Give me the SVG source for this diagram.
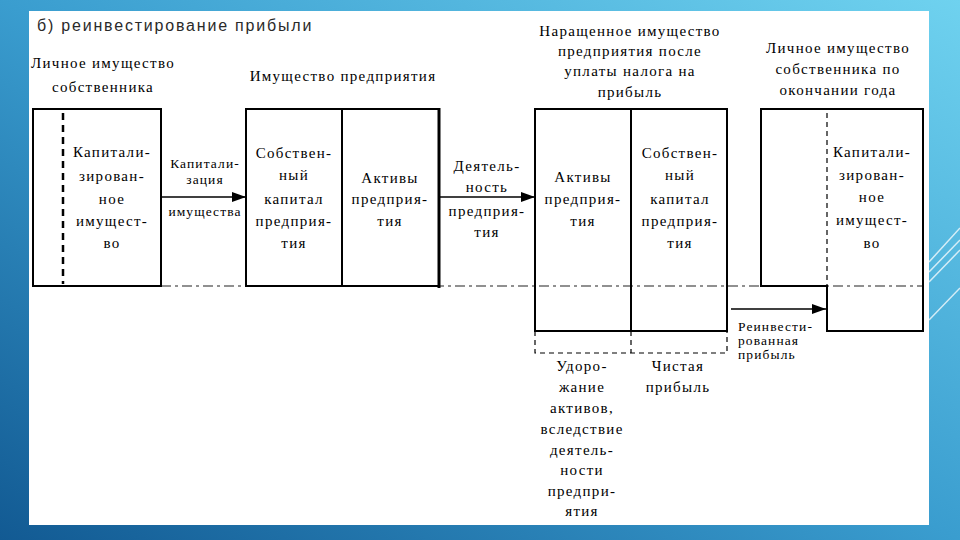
<svg xmlns="http://www.w3.org/2000/svg" width="960" height="540" viewBox="0 0 960 540">
  <defs>
    <linearGradient id="bg" x1="1" y1="0" x2="0" y2="1">
      <stop offset="0" stop-color="#6fd2ef"/>
      <stop offset="0.5" stop-color="#3a9dcf"/>
      <stop offset="1" stop-color="#125a93"/>
    </linearGradient>
    <marker id="ah" viewBox="0 0 14 10" refX="14" refY="5" markerWidth="14" markerHeight="10" markerUnits="userSpaceOnUse" orient="auto">
      <path d="M0,0 L14,5 L0,10 Z" fill="#000"/>
    </marker>
    <style>
      .t { font-family: "Times New Roman", Times, "Liberation Serif", Tinos, "Noto Serif", "DejaVu Serif", serif; font-size: 15px; fill: #000; letter-spacing: 1.3px; }
      .c { text-anchor: middle; }
      .sm { font-size: 13.5px; letter-spacing: 1.1px; }
      .title { font-family: "Liberation Sans", Arial, sans-serif; font-size: 16px; fill: #2a2a2a; letter-spacing: 1.8px; }
      .box { fill: none; stroke: #000; stroke-width: 2; }
      .solid { fill: none; stroke: #000; stroke-width: 2; }
      .thin { fill: none; stroke: #000; stroke-width: 1.5; }
      .dashthin { fill: none; stroke: #000; stroke-width: 1.2; stroke-dasharray: 5 4; }
      .dashthick { fill: none; stroke: #000; stroke-width: 2.5; stroke-dasharray: 7 5; }
      .dashdot { fill: none; stroke: #222; stroke-width: 1.2; stroke-dasharray: 10 4 3 4; }
      .deco { stroke: #fff; stroke-width: 1.5; opacity: 0.75; }
    </style>
  </defs>

  <rect x="0" y="0" width="960" height="540" fill="url(#bg)"/>
  <g id="decor">
    <line class="deco" x1="929" y1="262" x2="960" y2="228"/>
    <line class="deco" x1="929" y1="272" x2="960" y2="240"/>
    <line class="deco" x1="929" y1="282" x2="960" y2="250"/>
    <line class="deco" x1="929" y1="320" x2="960" y2="288"/>
  </g>
  <rect x="29" y="11" width="900" height="514" fill="#fff"/>

  <text class="title" x="37" y="31">б) реинвестирование прибыли</text>

  <g id="connectors">
    <line class="dashdot" x1="161" y1="286" x2="923" y2="286"/>
    <line class="thin" x1="161" y1="197" x2="246" y2="197" marker-end="url(#ah)"/>
    <line class="thin" x1="439" y1="197" x2="535" y2="197" marker-end="url(#ah)"/>
    <line class="thin" x1="731" y1="309" x2="826" y2="309" marker-end="url(#ah)"/>
  </g>

  <g id="header-left">
    <text class="t c" x="103" y="68">Личное имущество</text>
    <text class="t c" x="103" y="92">собственника</text>
  </g>
  <g id="header-middle">
    <text class="t c" x="343" y="81">Имущество предприятия</text>
  </g>
  <g id="header-grown">
    <text class="t c" x="630" y="36">Наращенное имущество</text>
    <text class="t c" x="630" y="56">предприятия после</text>
    <text class="t c" x="630" y="76">уплаты налога на</text>
    <text class="t c" x="630" y="97">прибыль</text>
  </g>
  <g id="header-right">
    <text class="t c" x="838" y="53">Личное имущество</text>
    <text class="t c" x="838" y="74">собственника по</text>
    <text class="t c" x="838" y="95">окончании года</text>
  </g>

  <g id="node-personal">
    <rect class="box" x="33" y="109" width="128" height="177"/>
    <line class="dashthick" x1="63" y1="113" x2="63" y2="284"/>
    <text class="t c" x="112" y="157">Капитали-</text>
    <text class="t c" x="112" y="181">зирован-</text>
    <text class="t c" x="112" y="204">ное</text>
    <text class="t c" x="112" y="226">имущест-</text>
    <text class="t c" x="112" y="248">во</text>
  </g>

  <g id="label-capitalization">
    <text class="t c sm" x="205" y="168">Капитали-</text>
    <text class="t c sm" x="205" y="184">зация</text>
    <text class="t c sm" x="205" y="216">имущества</text>
  </g>

  <g id="node-enterprise">
    <rect class="box" x="246" y="109" width="193" height="177"/>
    <line class="solid" x1="342" y1="109" x2="342" y2="286"/>
    <line x1="439" y1="108" x2="439" y2="288" stroke="#000" stroke-width="3"/>
    <text class="t c" x="294" y="158">Собствен-</text>
    <text class="t c" x="294" y="180">ный</text>
    <text class="t c" x="294" y="204">капитал</text>
    <text class="t c" x="294" y="226">предприя-</text>
    <text class="t c" x="294" y="248">тия</text>
    <text class="t c" x="390" y="183">Активы</text>
    <text class="t c" x="390" y="204">предприя-</text>
    <text class="t c" x="390" y="226">тия</text>
  </g>

  <g id="label-activity">
    <text class="t c" x="487" y="171">Деятель-</text>
    <text class="t c" x="487" y="192">ность</text>
    <text class="t c" x="487" y="216">предприя-</text>
    <text class="t c" x="487" y="237">тия</text>
  </g>

  <g id="node-grown">
    <rect class="box" x="535" y="109" width="192" height="222"/>
    <line class="solid" x1="631" y1="109" x2="631" y2="331"/>
    <path class="dashthin" d="M535,331 V353 H727 V331 M631,331 V353"/>
    <text class="t c" x="583" y="182">Активы</text>
    <text class="t c" x="583" y="204">предприя-</text>
    <text class="t c" x="583" y="226">тия</text>
    <text class="t c" x="680" y="158">Собствен-</text>
    <text class="t c" x="680" y="180">ный</text>
    <text class="t c" x="680" y="204">капитал</text>
    <text class="t c" x="680" y="226">предприя-</text>
    <text class="t c" x="680" y="248">тия</text>
  </g>

  <g id="label-appreciation">
    <text class="t c" x="582" y="371">Удоро-</text>
    <text class="t c" x="582" y="392">жание</text>
    <text class="t c" x="582" y="413">активов,</text>
    <text class="t c" x="582" y="434">вследствие</text>
    <text class="t c" x="582" y="455">деятель-</text>
    <text class="t c" x="582" y="475">ности</text>
    <text class="t c" x="582" y="496">предпри-</text>
    <text class="t c" x="582" y="516">ятия</text>
  </g>
  <g id="label-net-profit">
    <text class="t c" x="678" y="371">Чистая</text>
    <text class="t c" x="678" y="392">прибыль</text>
  </g>
  <g id="label-reinvested">
    <text class="t sm" x="738" y="331">Реинвести-</text>
    <text class="t sm" x="738" y="345">рованная</text>
    <text class="t sm" x="738" y="359">прибыль</text>
  </g>

  <g id="node-personal-end">
    <path class="solid" d="M827,286 H761 V109 H923 V331 H827 Z"/>
    <line class="dashthin" x1="827" y1="113" x2="827" y2="286"/>
    <text class="t c" x="872" y="157">Капитали-</text>
    <text class="t c" x="872" y="180">зирован-</text>
    <text class="t c" x="872" y="202">ное</text>
    <text class="t c" x="872" y="225">имущест-</text>
    <text class="t c" x="872" y="248">во</text>
  </g>
</svg>
